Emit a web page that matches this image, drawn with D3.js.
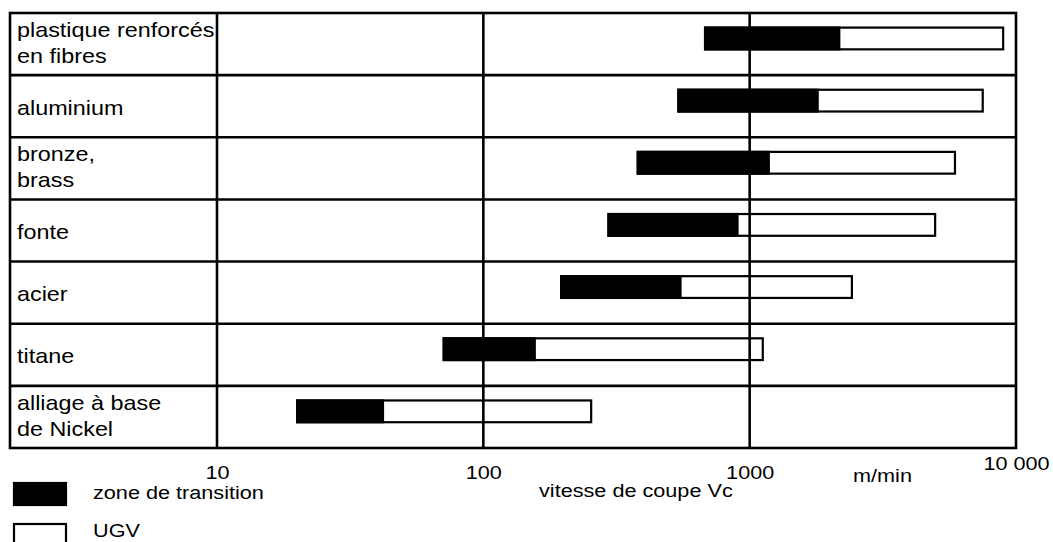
<!DOCTYPE html>
<html>
<head>
<meta charset="utf-8">
<script src="https://cdn.jsdelivr.net/npm/d3@7"></script>
<style>
  html, body { margin: 0; padding: 0; background: #fff; }
  svg { display: block; }
  text { font-family: "Liberation Sans", Arial, sans-serif; fill: #000; }
</style>
</head>
<body>
<svg id="chart" width="1053" height="542"></svg>
<script>
// ---- data ----
const categories = [
  "plastique renforcés\nen fibres",
  "aluminium",
  "bronze,\nbrass",
  "fonte",
  "acier",
  "titane",
  "alliage à base\nde Nickel"
];
const transitionStart = [680, 540, 380, 295, 196, 71, 20];   // m/min
const transitionEnd   = [2170, 1800, 1180, 900, 550, 156, 42];
const ugvEnd          = [8950, 7500, 5900, 4970, 2420, 1120, 254];
const tickValues = [10, 100, 1000, 10000];
const tickLabels = ["10", "100", "1000", "10 000"];
const legendItems = ["zone de transition", "UGV"];
const axisTitle = "vitesse de coupe Vc";
const unitLabel = "m/min";

// ---- layout ----
const svg = d3.select("#chart");
const frameLeft = 10, plotLeft = 217, plotRight = 1016, plotTop = 13, plotBottom = 448;
const sx = 1.14; // horizontal text stretch

const x = d3.scaleLog().domain([10, 10000]).range([plotLeft, plotRight]);
const y = d3.scaleBand().domain(categories).range([plotTop, plotBottom]).padding(0);
const bw = y.bandwidth();

const rows = categories.map((c, i) => ({
  cat: c, s: transitionStart[i], m: transitionEnd[i], e: ugvEnd[i]
}));

// bars
const barY = d => y(d.cat) + bw * 0.235;
const barH = bw * 0.35;
svg.append("g").selectAll("rect.ugv").data(rows).join("rect")
  .attr("x", d => x(d.s)).attr("y", barY)
  .attr("width", d => x(d.e) - x(d.s)).attr("height", barH)
  .attr("fill", "#fff").attr("stroke", "#000").attr("stroke-width", 2.2);
svg.append("g").selectAll("rect.tr").data(rows).join("rect")
  .attr("x", d => x(d.s)).attr("y", barY)
  .attr("width", d => x(d.m) - x(d.s)).attr("height", barH)
  .attr("fill", "#000").attr("stroke", "#000").attr("stroke-width", 2.2);

// grid / table lines
const g = svg.append("g").attr("stroke", "#000").attr("stroke-width", 2.6).attr("fill", "none");
g.selectAll("line.v").data(tickValues.slice(1, -1)).join("line")
  .attr("x1", d => x(d)).attr("x2", d => x(d)).attr("y1", plotTop).attr("y2", plotBottom);
g.append("line").attr("x1", plotLeft).attr("x2", plotLeft).attr("y1", plotTop).attr("y2", plotBottom);
g.selectAll("line.h").data(categories.slice(1)).join("line")
  .attr("x1", frameLeft).attr("x2", plotRight).attr("y1", d => y(d)).attr("y2", d => y(d));
g.append("rect").attr("x", frameLeft).attr("y", plotTop)
  .attr("width", plotRight - frameLeft).attr("height", plotBottom - plotTop);

// row labels
const lbl = svg.append("g");
rows.forEach(d => {
  const lines = d.cat.split("\n");
  const c = y(d.cat) + bw / 2;
  const base = lines.length === 1 ? [c + 8.5] : [c - 7, c + 19];
  lines.forEach((t, j) => {
    lbl.append("text")
      .attr("transform", `translate(17,${base[j]}) scale(${sx},1)`)
      .style("font-size", "20.5px")
      .text(t);
  });
});

// x axis tick labels
const axis = d3.axisBottom(x).tickValues(tickValues)
  .tickFormat((d, i) => tickLabels[i]).tickSize(0).tickPadding(17.5);
const ax = svg.append("g").attr("transform", `translate(0,${plotBottom})`).call(axis);
ax.select(".domain").remove();
ax.selectAll("text")
  .attr("fill", "#000")
  .style("font-family", '"Liberation Sans", Arial, sans-serif')
  .style("font-size", "19px")
  .attr("transform", `scale(${sx},1)`);
ax.selectAll(".tick").filter(d => d === 10000).select("text").attr("y", 8.5);

// axis title + unit
svg.append("text").attr("transform", `translate(539,497) scale(${sx},1)`)
  .style("font-size", "19px").text(axisTitle);
svg.append("text").attr("transform", `translate(853,482) scale(${sx},1)`)
  .style("font-size", "19px").text(unitLabel);

// legend
const leg = svg.append("g");
legendItems.forEach((t, i) => {
  const ly = 483 + i * 41;
  leg.append("rect").attr("x", 14).attr("y", ly).attr("width", 52).attr("height", 22)
    .attr("fill", i === 0 ? "#000" : "#fff").attr("stroke", "#000").attr("stroke-width", 2.2);
  leg.append("text").attr("transform", `translate(93,${ly + 16 - i * 3}) scale(${sx},1)`)
    .style("font-size", "19px").text(t);
});
</script>
</body>
</html>
